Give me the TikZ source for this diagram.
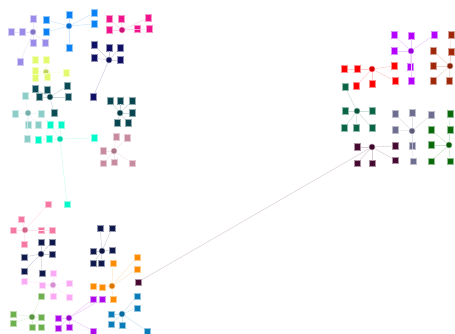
\documentclass[tikz,border=0pt]{standalone}
\usepackage{tikz}
\usepackage{xcolor}

\definecolor{lav}{RGB}{152,140,232}
\definecolor{azure}{RGB}{10,130,245}
\definecolor{magenta}{RGB}{240,20,140}
\definecolor{navyA}{RGB}{15,15,100}
\definecolor{lime}{RGB}{225,250,110}
\definecolor{tealA}{RGB}{10,75,85}
\definecolor{mist}{RGB}{140,205,200}
\definecolor{aqua}{RGB}{0,250,200}
\definecolor{rose}{RGB}{200,140,160}
\definecolor{tealB}{RGB}{10,70,80}
\definecolor{coral}{RGB}{245,120,160}
\definecolor{navyB}{RGB}{15,25,75}
\definecolor{orchid}{RGB}{250,170,245}
\definecolor{grass}{RGB}{110,175,80}
\definecolor{violet}{RGB}{175,10,235}
\definecolor{steel}{RGB}{10,125,185}
\definecolor{amber}{RGB}{255,140,0}
\definecolor{navyC}{RGB}{15,25,75}
\definecolor{grape}{RGB}{180,0,255}
\definecolor{rust}{RGB}{160,40,10}
\definecolor{scarlet}{RGB}{255,0,0}
\definecolor{pine}{RGB}{10,100,70}
\definecolor{slate}{RGB}{110,110,145}
\definecolor{forest}{RGB}{10,105,10}
\definecolor{plum}{RGB}{70,10,50}

\begin{document}
\begin{tikzpicture}[
  x=1pt,
  y=-1pt,
  leaf/.style={
    rectangle,
    inner sep=0pt,
    minimum size=6.5pt,
    line width=0.5pt,
    fill=#1,
    draw=#1!45
  },
  hub/.style={
    circle,
    inner sep=0pt,
    minimum size=6pt,
    line width=0.5pt,
    fill=#1!85!black,
    draw=#1!45
  },
  link/.style={draw=#1!20, line width=0.5pt}
]

\useasboundingbox[fill=white] (0,0) rectangle (455,334);

% left column, top
\node[hub=lav] (lav) at (33,32) {};
\foreach \k/\x/\y in {1/33/19, 2/11/32, 3/22/32, 4/33/43, 5/45/43, 6/20/62} {
  \node[leaf=lav] (lav\k) at (\x,\y) {};
  \draw[link=lav] (lav) -- (lav\k);
}

\node[hub=azure] (azure) at (69,26) {};
\foreach \k/\x/\y in {1/46/20, 2/46/32, 3/69/15, 4/94/13, 5/94/24, 6/69/48} {
  \node[leaf=azure] (azure\k) at (\x,\y) {};
  \draw[link=azure] (azure) -- (azure\k);
}

\node[hub=magenta] (magenta) at (122,30) {};
\foreach \k/\x/\y in {1/109/19, 2/121/19, 3/109/30, 4/148/18, 5/137/29, 6/149/29} {
  \node[leaf=magenta] (magenta\k) at (\x,\y) {};
  \draw[link=magenta] (magenta) -- (magenta\k);
}

\node[hub=navyA] (navyA) at (109,60) {};
\foreach \k/\x/\y in {1/94/45, 2/109/48, 3/120/48, 4/94/58, 5/120/60, 6/93/97} {
  \node[leaf=navyA] (navyA\k) at (\x,\y) {};
  \draw[link=navyA] (navyA) -- (navyA\k);
}

\node[hub=lime] (lime) at (46,72) {};
\foreach \k/\x/\y in {1/35/60, 2/46/60, 3/35/71, 4/35/78, 5/47/77, 6/66/73} {
  \node[leaf=lime] (lime\k) at (\x,\y) {};
  \draw[link=lime] (lime) -- (lime\k);
}

\node[hub=tealA] (tealA) at (50,97) {};
\foreach \k/\x/\y in {1/35/89, 2/47/90, 3/67/86, 4/39/97, 5/68/97, 6/54/113} {
  \node[leaf=tealA] (tealA\k) at (\x,\y) {};
  \draw[link=tealA] (tealA) -- (tealA\k);
}

\node[hub=tealB] (tealB) at (120,113) {};
\foreach \k/\x/\y in {1/110/101, 2/120/101, 3/132/101, 4/132/113, 5/117/123, 6/128/123} {
  \node[leaf=tealB] (tealB\k) at (\x,\y) {};
  \draw[link=tealB] (tealB) -- (tealB\k);
}

\node[hub=mist] (mist) at (28,113) {};
\foreach \k/\x/\y in {1/25/96, 2/15/114, 3/41/114, 4/28/125, 5/38/125, 6/27/139} {
  \node[leaf=mist] (mist\k) at (\x,\y) {};
  \draw[link=mist] (mist) -- (mist\k);
}

\node[hub=aqua] (aqua) at (60,139) {};
\foreach \k/\x/\y in {1/50/125, 2/61/125, 3/38/140, 4/49/139, 5/94/138, 6/67/204} {
  \node[leaf=aqua] (aqua\k) at (\x,\y) {};
  \draw[link=aqua] (aqua) -- (aqua\k);
}

\node[hub=rose] (rose) at (114,151) {};
\foreach \k/\x/\y in {1/116/137, 2/127/138, 3/103/151, 4/103/163, 5/114/162, 6/132/163} {
  \node[leaf=rose] (rose\k) at (\x,\y) {};
  \draw[link=rose] (rose) -- (rose\k);
}

% left column, bottom
\node[hub=coral] (coral) at (25,230) {};
\foreach \k/\x/\y in {1/48/204, 2/21/219, 3/13/230, 4/41/230, 5/52/230, 6/24/244} {
  \node[leaf=coral] (coral\k) at (\x,\y) {};
  \draw[link=coral] (coral) -- (coral\k);
}

\node[hub=navyB] (navyB) at (41,254) {};
\foreach \k/\x/\y in {1/41/242, 2/52/242, 3/24/257, 4/52/254, 5/24/271, 6/42/273} {
  \node[leaf=navyB] (navyB\k) at (\x,\y) {};
  \draw[link=navyB] (navyB) -- (navyB\k);
}

\node[hub=navyC] (navyC) at (102,251) {};
\foreach \k/\x/\y in {1/100/228, 2/112/228, 3/93/251, 4/112/250, 5/93/263, 6/101/263} {
  \node[leaf=navyC] (navyC\k) at (\x,\y) {};
  \draw[link=navyC] (navyC) -- (navyC\k);
}

\node[hub=orchid] (orchid) at (53,285) {};
\foreach \k/\x/\y in {1/24/281, 2/42/285, 3/53/273, 4/69/283, 5/53/296, 6/69/297} {
  \node[leaf=orchid] (orchid\k) at (\x,\y) {};
  \draw[link=orchid] (orchid) -- (orchid\k);
}

\node[hub=amber] (amber) at (112,286) {};
\foreach \k/\x/\y in {1/113/263, 2/137/257, 3/137/269, 4/93/286, 5/102/287, 6/113/299} {
  \node[leaf=amber] (amber\k) at (\x,\y) {};
  \draw[link=amber] (amber) -- (amber\k);
}

\node[hub=grass] (grass) at (32,317) {};
\foreach \k/\x/\y in {1/41/296, 2/13/314, 3/13/323, 4/41/317, 5/32/327, 6/41/327} {
  \node[leaf=grass] (grass\k) at (\x,\y) {};
  \draw[link=grass] (grass) -- (grass\k);
}

\node[hub=violet] (violet) at (69,318) {};
\foreach \k/\x/\y in {1/93/299, 2/102/299, 3/58/318, 4/58/328, 5/69/327, 6/93/331} {
  \node[leaf=violet] (violet\k) at (\x,\y) {};
  \draw[link=violet] (violet) -- (violet\k);
}

\node[hub=steel] (steel) at (122,314) {};
\foreach \k/\x/\y in {1/137/296, 2/111/314, 3/137/308, 4/111/324, 5/122/325, 6/147/331} {
  \node[leaf=steel] (steel\k) at (\x,\y) {};
  \draw[link=steel] (steel) -- (steel\k);
}

% right block
\node[hub=grape] (grape) at (411,51) {};
\foreach \k/\x/\y in {1/394/35, 2/411/36, 3/434/35, 4/394/51, 5/410/67, 6/411/81} {
  \node[leaf=grape] (grape\k) at (\x,\y) {};
  \draw[link=grape] (grape) -- (grape\k);
}

\node[hub=rust] (rust) at (450,66) {};
\foreach \k/\x/\y in {1/451/35, 2/433/51, 3/451/52, 4/433/66, 5/433/81, 6/449/81} {
  \node[leaf=rust] (rust\k) at (\x,\y) {};
  \draw[link=rust] (rust) -- (rust\k);
}

\node[hub=scarlet] (scarlet) at (372,69) {};
\foreach \k/\x/\y in {1/344/69, 2/357/69, 3/394/66, 4/356/86, 5/372/84, 6/395/81} {
  \node[leaf=scarlet] (scarlet\k) at (\x,\y) {};
  \draw[link=scarlet] (scarlet) -- (scarlet\k);
}

\node[hub=pine] (pine) at (357,111) {};
\foreach \k/\x/\y in {1/345/87, 2/345/111, 3/372/111, 4/344/128, 5/356/128, 6/372/128} {
  \node[leaf=pine] (pine\k) at (\x,\y) {};
  \draw[link=pine] (pine) -- (pine\k);
}

\node[hub=slate] (slate) at (412,131) {};
\foreach \k/\x/\y in {1/395/114, 2/412/113, 3/431/115, 4/395/130, 5/412/146, 6/413/161} {
  \node[leaf=slate] (slate\k) at (\x,\y) {};
  \draw[link=slate] (slate) -- (slate\k);
}

\node[hub=forest] (forest) at (449,145) {};
\foreach \k/\x/\y in {1/450/114, 2/431/130, 3/450/130, 4/431/145, 5/431/161, 6/450/161} {
  \node[leaf=forest] (forest\k) at (\x,\y) {};
  \draw[link=forest] (forest) -- (forest\k);
}

\node[hub=plum] (plum) at (372,147) {};
\foreach \k/\x/\y in {1/357/147, 2/395/146, 3/357/163, 4/372/163, 5/395/160, 6/138/282} {
  \node[leaf=plum] (plum\k) at (\x,\y) {};
  \draw[link=plum] (plum) -- (plum\k);
}

\end{tikzpicture}
\end{document}
